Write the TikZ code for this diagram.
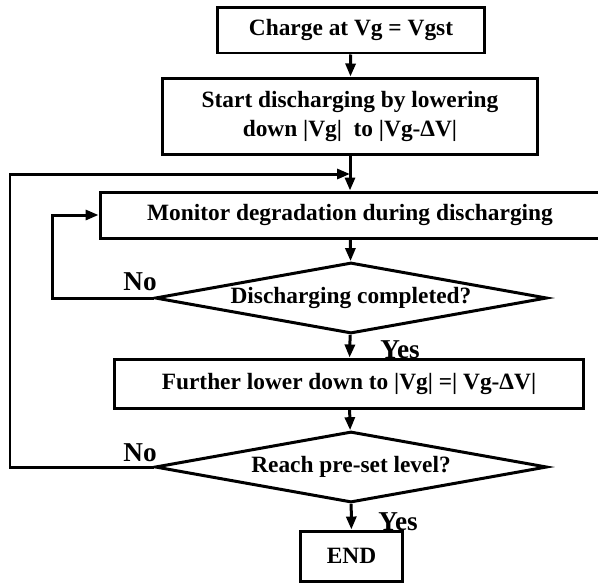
\documentclass[tikz,border=0pt]{standalone}
\usepackage{fontspec}
\setmainfont{Liberation Serif}
\usetikzlibrary{arrows.meta,shapes.geometric}

\tikzset{
  stepbox/.style={draw, line width=0.06cm, rectangle, inner sep=0pt, align=center,
    font=\fontsize{13.3}{17}\selectfont\bfseries},
  testbox/.style={draw, line width=0.06cm, diamond, aspect=6, inner sep=0pt,
    minimum width=7.84cm, minimum height=1.42cm,
    font=\fontsize{13.3}{17}\selectfont\bfseries},
  answer/.style={inner sep=0pt, font=\fontsize{15.5}{18}\selectfont\bfseries},
  flow/.style={line width=0.06cm, -{Triangle[length=0.26cm,width=0.2cm]}},
}

\begin{document}
\begin{tikzpicture}[x=0.02cm,y=-0.02cm]
		\useasboundingbox (0,0) rectangle (598,582);
		\node[stepbox, minimum width=5.36cm, minimum height=0.92cm] (charge) at (351,30) {Charge at Vg = Vgst};
		\node[stepbox, minimum width=7.52cm, minimum height=1.54cm] (start) at (350,116.5) {Start discharging by lowering\\ down |Vg|~ to |Vg-ΔV|};
		\node[stepbox, minimum width=10cm, minimum height=0.92cm] (monitor) at (350,215) {Monitor degradation during discharging};
		\node[testbox] (done) at (351,298) {Discharging completed?};
		\node[stepbox, minimum width=9.4cm, minimum height=0.98cm] (lower) at (349,383.5) {Further lower down to |Vg| =| Vg-ΔV|};
		\node[testbox] (reach) at (351,467) {Reach pre-set level?};
		\node[stepbox, minimum width=2.06cm, minimum height=1cm] (end) at (351.5,556) {END};
		\node[answer] (no1) at (140,282) {No};
		\node[answer] (yes1) at (400,350) {Yes};
		\node[answer] (no2) at (140,453) {No};
		\node[answer] (yes2) at (398,522) {Yes};
		\coordinate (join) at (350,174);
		\draw[flow] (charge) -- (start);
		\draw[flow] (start) -- (monitor);
		\draw[flow] (monitor) -- (done);
		\draw[flow] (done) -- (lower);
		\draw[flow] (lower) -- (reach);
		\draw[flow] (reach) -- (end);
		\draw[flow] (done.west) -- (52,298) |- (monitor.west);
		\draw[flow] (reach.west) -- (10,467) |- (join);
	\end{tikzpicture}
\end{document}
